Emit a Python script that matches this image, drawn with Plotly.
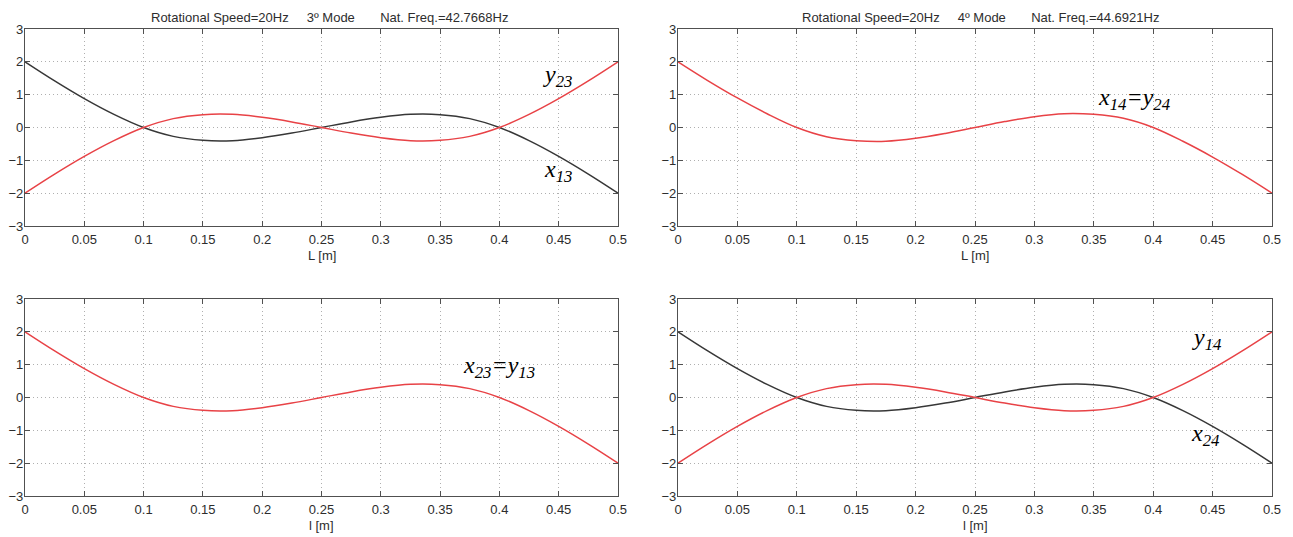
import plotly.graph_objects as go

# ---------------- data ----------------
L = [0, 0.025, 0.05, 0.075, 0.1, 0.125, 0.15, 0.175, 0.2, 0.225, 0.25,
     0.275, 0.3, 0.325, 0.35, 0.375, 0.4, 0.425, 0.45, 0.475, 0.5]

mode3_x13 = [2.0, 1.42, 0.88, 0.40, 0.0, -0.27, -0.39, -0.40, -0.31, -0.17, 0.0,
             0.17, 0.31, 0.40, 0.39, 0.27, 0.0, -0.40, -0.88, -1.42, -2.0]
mode3_y23 = [-2.0, -1.42, -0.88, -0.40, 0.0, 0.27, 0.39, 0.40, 0.31, 0.17, 0.0,
             -0.17, -0.31, -0.40, -0.39, -0.27, 0.0, 0.40, 0.88, 1.42, 2.0]
mode4_x14 = [2.0, 1.43, 0.90, 0.42, 0.0, -0.28, -0.40, -0.42, -0.33, -0.18, 0.0,
             0.18, 0.33, 0.42, 0.40, 0.28, 0.0, -0.42, -0.90, -1.43, -2.0]
mode3_x23 = [2.0, 1.42, 0.88, 0.40, 0.0, -0.27, -0.39, -0.40, -0.31, -0.17, 0.0,
             0.17, 0.31, 0.40, 0.39, 0.27, 0.0, -0.40, -0.88, -1.42, -2.0]
mode4_x24 = [2.0, 1.42, 0.88, 0.40, 0.0, -0.27, -0.39, -0.40, -0.31, -0.17, 0.0,
             0.17, 0.31, 0.40, 0.39, 0.27, 0.0, -0.40, -0.88, -1.42, -2.0]
mode4_y14 = [-2.0, -1.42, -0.88, -0.40, 0.0, 0.27, 0.39, 0.40, 0.31, 0.17, 0.0,
             -0.17, -0.31, -0.40, -0.39, -0.27, 0.0, 0.40, 0.88, 1.42, 2.0]

x_ticks = [0, 0.05, 0.1, 0.15, 0.2, 0.25, 0.3, 0.35, 0.4, 0.45, 0.5]
x_tick_labels = ["0", "0.05", "0.1", "0.15", "0.2", "0.25", "0.3", "0.35", "0.4", "0.45", "0.5"]
y_ticks = [-3, -2, -1, 0, 1, 2, 3]

NB = "\u00a0"
titles = [
    "Rotational Speed=20Hz" + NB * 5 + "3\u00ba Mode" + NB * 7 + "Nat. Freq.=42.7668Hz",
    "Rotational Speed=20Hz" + NB * 5 + "4\u00ba Mode" + NB * 7 + "Nat. Freq.=44.6921Hz",
]

# ---------------- styling ----------------
OFF = 8                      # default page margin of the html body
W, H = 1293 - OFF, 537 - OFF
RED = "rgb(232,66,70)"
DARK = "rgb(55,55,55)"
AX = "rgb(80,80,80)"
GRID = "rgb(175,175,175)"
TXT = "rgb(45,45,45)"
FONT = "Liberation Sans, Arial, sans-serif"
SERIF = "Liberation Serif, Times New Roman, serif"

# pixel boxes of the four axes in page coordinates (left, right, top, bottom)
boxes = {
    1: (25, 618, 29, 226),
    2: (678, 1272, 29, 226),
    3: (25, 618, 299, 496),
    4: (678, 1272, 299, 496),
}

def px(x):
    return (x - OFF) / W

def py(y):
    return 1 - (y - OFF) / H

fig = go.Figure()

def add(series, color, idx):
    xa = "x" if idx == 1 else f"x{idx}"
    ya = "y" if idx == 1 else f"y{idx}"
    fig.add_trace(go.Scatter(x=L, y=series, mode="lines", xaxis=xa, yaxis=ya,
                             line=dict(color=color, width=1.5, shape="spline", smoothing=1.0),
                             showlegend=False, hoverinfo="skip"))

add(mode3_x13, DARK, 1)
add(mode3_y23, RED, 1)
add(mode4_x14, RED, 2)
add(mode3_x23, RED, 3)
add(mode4_x24, DARK, 4)
add(mode4_y14, RED, 4)

layout = dict(
    width=W, height=H,
    margin=dict(l=0, r=0, t=0, b=0),
    paper_bgcolor="white", plot_bgcolor="white",
    font=dict(family=FONT, size=13, color=TXT),
)

for idx, (l, r, t, b) in boxes.items():
    sx = "" if idx == 1 else str(idx)
    common = dict(showline=True, linecolor=AX, linewidth=1.2, mirror="ticks",
                  ticks="inside", ticklen=5, tickcolor=AX, tickwidth=1,
                  showgrid=True, gridcolor=GRID, griddash="1px,3px", gridwidth=1,
                  zeroline=False, automargin=False,
                  tickfont=dict(family=FONT, size=13, color=TXT))
    layout[f"xaxis{sx}"] = dict(domain=[px(l), px(r)], range=[0, 0.5],
                                tickvals=x_ticks, ticktext=x_tick_labels,
                                ticklabelstandoff=1,
                                anchor=f"y{sx}", **common)
    layout[f"yaxis{sx}"] = dict(domain=[py(b), py(t)], range=[-3, 3],
                                tickvals=y_ticks, ticklabelstandoff=-2,
                                anchor=f"x{sx}", **common)

fig.update_layout(**layout)

ann = []
# titles
for i, (l, r, t, b), dx in [(0, boxes[1], 8), (1, boxes[2], 5)]:
    ann.append(dict(x=px((l + r) / 2 + dx), y=py(17), xref="paper", yref="paper",
                    text=titles[i], showarrow=False, xanchor="center", yanchor="middle",
                    font=dict(family=FONT, size=13, color=TXT)))
# x-axis titles
for idx, lab in [(1, "L [m]"), (2, "L [m]"), (3, "l [m]"), (4, "l [m]")]:
    l, r, t, b = boxes[idx]
    ann.append(dict(x=px((l + r) / 2), y=py(b + 29), xref="paper", yref="paper",
                    text=lab, showarrow=False, xanchor="center", yanchor="middle",
                    font=dict(family=FONT, size=13, color=TXT)))

def label(idx, x, y, html):
    sx = "" if idx == 1 else str(idx)
    ann.append(dict(x=x, y=y, xref=f"x{sx}", yref=f"y{sx}", text=html, showarrow=False,
                    xanchor="center", yanchor="middle",
                    font=dict(family=SERIF, size=24, color="black")))

label(1, 0.449, 1.58, "<i>y<sub>23</sub></i>")
label(1, 0.449, -1.32, "<i>x<sub>13</sub></i>")
label(2, 0.384, 0.86, "<i>x<sub>14</sub>=y<sub>24</sub></i>")
label(3, 0.400, 0.92, "<i>x<sub>23</sub>=y<sub>13</sub></i>")
label(4, 0.445, 1.79, "<i>y<sub>14</sub></i>")
label(4, 0.444, -1.15, "<i>x<sub>24</sub></i>")

fig.update_layout(annotations=ann)
fig.write_html("out.html")
